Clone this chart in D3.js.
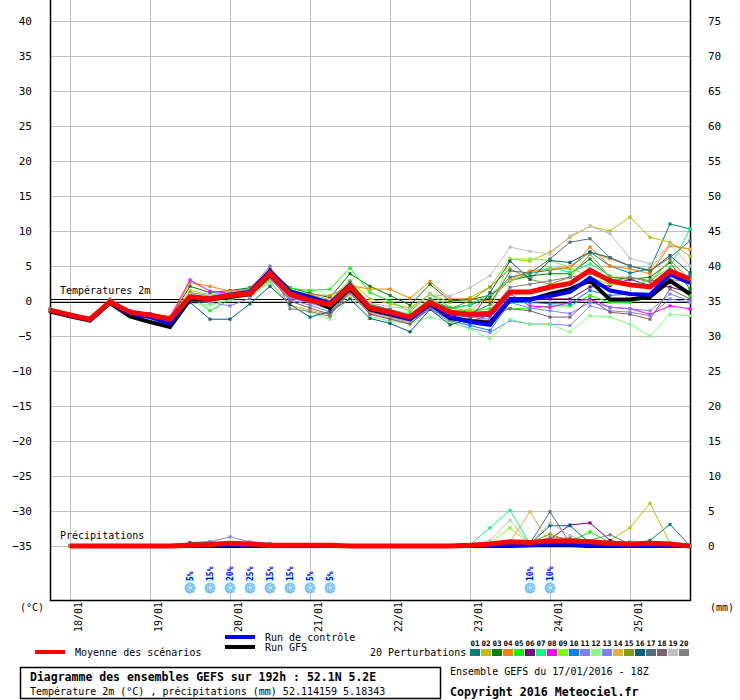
<!DOCTYPE html>
<html>
<head>
<meta charset="utf-8">
<script src="https://cdn.jsdelivr.net/npm/d3@7"></script>
<style>
body{margin:0;background:#fff}
svg{display:block}
text{font-family:"DejaVu Sans Mono",monospace}
</style>
</head>
<body>
<div id="chart"></div>
<script>
// time axis: hours after 17/01 18Z, one point every 6h
const hours = d3.range(0, 193, 6)
const dayHours = [6, 30, 54, 78, 102, 126, 150, 174]
const dayLabels = ['18/01', '19/01', '20/01', '21/01', '22/01', '23/01', '24/01', '25/01']
const tempTicks = [40, 35, 30, 25, 20, 15, 10, 5, 0, -5, -10, -15, -20, -25, -30, -35]
const precipTicks = [75, 70, 65, 60, 55, 50, 45, 40, 35, 30, 25, 20, 15, 10, 5, 0]

const pertNames = ['01','02','03','04','05','06','07','08','09','10','11','12','13','14','15','16','17','18','19','20']
const pertColors = ['#008080','#bfbf00','#008000','#ff8000','#00ff00','#800080','#00ff80','#ff00ff','#80ff00','#0080ff',
    '#8080ff','#80ff80','#8080f8','#e0b040','#80a000','#006080','#507080','#806070','#c0c0c0','#808080']

// 2m temperature (°C)
const meanTemp = [-1.3,-2.0,-2.6,-0.1,-1.6,-2.0,-2.6,0.6,0.3,0.8,1.1,4.0,1.0,0.1,-0.5,2.1,-1.0,-1.6,-2.3,-0.2,-1.6,-1.9,-1.8,1.3,1.3,2.0,2.5,4.4,2.9,2.3,2.0,4.3,3.1]
const ctrlTemp = [-1.4,-2.1,-2.7,-0.2,-1.8,-2.3,-3.2,0.5,0.4,0.9,1.3,4.3,1.4,0.6,-0.3,2.3,-1.0,-1.8,-2.6,-0.4,-2.3,-3.0,-3.4,0.3,0.3,0.7,1.3,3.3,1.5,1.0,0.9,3.8,2.6]
const gfsTemp = [-1.5,-2.2,-2.8,-0.3,-2.2,-3.0,-3.7,0.2,0.2,0.6,1.0,3.8,1.0,0.3,-1.0,1.8,-1.2,-1.9,-2.5,-0.4,-2.4,-2.9,-3.1,0.1,0.2,1.0,1.7,2.9,0.2,0.2,0.6,2.9,1.0]
const pertTemp = [
    [-1.2,-2.0,-2.5,0.0,-1.5,-1.9,-2.5,0.9,0.6,1.0,1.4,4.2,1.5,0.8,-0.2,2.6,-0.6,-1.4,-2.0,0.2,-1.0,-0.6,0.5,3.4,4.0,4.4,4.8,7.0,5.0,4.0,4.6,11.0,10.3],
    [-1.1,-1.9,-2.4,0.1,-1.4,-1.8,-2.2,1.5,0.9,1.3,1.8,3.6,1.6,0.9,0.2,2.9,0.3,-0.4,-1.0,1.0,-0.2,0.5,2.0,6.0,5.7,7.0,9.1,10.7,10.0,12.0,9.1,8.4,6.4],
    [-1.2,-1.9,-2.5,0.0,-1.4,-1.8,-2.4,2.1,1.2,1.5,1.9,4.4,1.9,1.1,0.5,3.9,2.1,0.8,-0.6,2.4,0.0,0.2,0.8,2.9,3.6,3.9,3.9,6.0,3.4,3.1,3.4,5.5,1.7],
    [-1.3,-2.0,-2.6,-0.1,-1.5,-1.9,-2.4,2.6,2.1,1.4,1.6,3.2,1.2,0.9,0.8,2.2,1.7,1.7,0.4,2.8,0.3,0.3,0.0,3.1,4.3,4.6,4.6,7.7,5.0,4.6,3.9,7.9,7.4],
    [-1.4,-2.1,-2.7,-0.2,-1.6,-2.1,-2.6,0.8,-1.4,0.2,1.0,3.0,1.8,1.5,1.7,4.7,1.2,0.0,-1.5,1.0,-0.9,-1.5,-1.1,-1.1,-1.1,-0.7,-0.7,0.8,-0.2,-0.2,0.5,2.7,0.8],
    [-1.3,-2.1,-2.6,-0.1,-1.6,-2.0,-2.7,0.3,0.0,0.6,1.0,3.9,0.6,-0.2,-0.8,1.8,-1.3,-1.9,-2.6,-0.5,-2.0,-2.3,-2.2,0.3,0.1,0.3,0.3,2.0,2.2,3.1,2.2,2.0,1.2],
    [-1.2,-1.9,-2.5,0.0,-1.5,-1.9,-2.5,1.1,0.8,1.2,1.6,3.0,0.8,0.4,-0.3,2.6,-0.7,-1.2,-1.9,0.3,-1.2,-0.5,1.0,2.9,3.9,4.8,4.1,5.3,3.6,2.2,2.9,4.8,10.3],
    [-1.2,-2.0,-2.5,0.0,-1.4,-1.8,-2.3,3.0,1.4,1.1,1.3,3.4,0.3,0.0,-0.6,1.5,-1.6,-2.2,-2.9,-0.8,-2.2,-2.6,-2.8,1.0,-0.7,-0.9,-0.2,0.3,-0.9,-1.1,-1.9,-0.7,-1.1],
    [-1.3,-2.0,-2.6,-0.1,-1.5,-1.9,-2.5,0.7,0.5,1.0,1.5,3.7,1.3,0.6,0.0,2.8,-0.4,-1.3,-2.0,0.4,-1.5,-1.2,-1.6,6.0,6.0,5.8,4.8,3.4,2.4,2.2,2.2,4.3,3.4],
    [-1.4,-2.1,-2.7,-0.2,-1.7,-2.2,-2.8,0.2,0.1,0.5,0.9,3.8,0.8,-0.1,-1.0,1.9,-1.4,-2.2,-3.0,-1.0,-2.8,-3.5,-4.2,-0.2,-0.2,-0.4,-0.4,1.5,0.8,1.0,0.8,3.6,3.6],
    [-1.4,-2.1,-2.7,-0.2,-1.7,-2.1,-2.8,0.0,-0.2,-0.7,0.4,3.4,0.2,-0.6,-1.6,1.3,-1.8,-2.5,-3.2,-1.2,-3.0,-3.9,-4.5,-2.8,-3.3,-3.3,-3.5,-0.7,-1.4,-1.6,-2.1,0.3,-0.2],
    [-1.3,-2.0,-2.6,-0.1,-1.6,-2.0,-2.6,-0.3,-0.6,0.2,0.8,2.6,-0.5,-1.6,-2.6,0.6,-2.2,-2.9,-3.2,-2.3,-3.0,-4.0,-5.4,-2.6,-3.3,-3.4,-4.4,-2.1,-2.3,-3.3,-5.0,-1.9,-2.1],
    [-1.3,-2.0,-2.6,-0.1,-1.6,-2.0,-2.7,0.5,0.3,0.5,0.9,3.5,0.5,-0.3,-1.2,1.6,-1.3,-2.1,-2.8,-0.9,-2.2,-2.3,-2.6,-0.2,-1.0,-1.4,-1.8,-0.2,-0.9,-1.1,-1.4,1.0,0.0],
    [-1.3,-2.0,-2.6,-0.1,-1.6,-2.0,-2.6,0.9,0.0,0.4,0.7,2.9,-0.6,-1.3,-2.0,1.0,-1.8,-2.4,-3.0,-0.6,-2.0,-1.5,1.0,2.8,4.1,4.6,5.0,7.0,6.0,5.0,4.5,8.1,7.4],
    [-1.2,-1.9,-2.5,0.0,-1.5,-1.9,-2.5,1.2,0.7,0.8,1.2,3.5,0.9,0.2,-0.4,2.4,-0.8,-1.6,-2.1,0.0,-1.1,0.0,2.0,4.6,3.1,2.4,3.4,6.7,3.4,3.4,2.7,5.8,3.1],
    [-1.5,-2.2,-2.8,-0.3,-1.8,-2.2,-2.8,-0.2,-2.6,-2.6,-0.4,2.1,-0.5,-2.3,-1.5,0.3,-2.5,-3.2,-4.4,-1.2,-3.4,-2.6,1.2,5.7,3.1,5.8,5.5,7.0,6.2,5.0,4.3,6.5,4.0],
    [-1.3,-2.0,-2.6,-0.1,-1.6,-2.0,-2.6,0.4,0.4,1.0,1.4,4.6,1.2,0.4,-0.3,2.7,-0.5,-1.2,-2.2,0.3,-1.8,-1.8,-0.5,4.3,4.0,6.0,8.4,8.9,6.2,5.0,4.3,6.2,8.6],
    [-1.4,-2.1,-2.7,-0.2,-1.7,-2.1,-2.7,0.0,0.2,0.4,0.8,3.3,0.0,-1.0,-1.9,1.2,-1.9,-2.6,-3.3,-1.0,-2.7,-2.9,-2.0,-1.1,-1.4,-2.3,-2.3,0.3,-1.6,-1.9,-2.6,1.7,0.3],
    [-1.2,-1.9,-2.5,0.0,-1.5,-1.9,-2.4,1.0,0.8,1.2,1.7,3.9,1.4,0.7,0.2,2.4,-0.3,-0.8,-1.2,0.9,0.7,1.9,3.6,7.7,7.1,6.7,9.3,10.7,9.6,6.1,5.3,8.1,5.0],
    [-1.2,-1.9,-2.5,0.3,-1.4,-1.8,-2.4,0.6,0.5,1.1,1.7,5.0,-1.1,-1.5,-2.2,1.9,-1.0,-1.6,-2.0,0.1,-1.6,-1.9,-1.5,1.95,2.4,2.9,3.4,3.9,2.7,3.4,2.9,3.1,2.7]
]

// 6h precipitation (mm), first value ends at 18/01 00Z
const meanPrecip = [0,0,0,0,0,0,0.1,0.2,0.4,0.3,0.1,0.1,0.1,0.1,0,0,0,0,0,0,0.1,0.3,0.6,0.5,0.7,0.7,0.6,0.4,0.3,0.4,0.3,0]
const ctrlPrecip = [0,0,0,0,0,0,0.1,0.1,0.2,0.1,0,0,0,0,0,0,0,0,0,0,0,0,0.1,0.1,0.2,0.2,0.1,0.1,0,0,0,0]
const gfsPrecip = [0,0,0,0,0,0,0,0,0,0,0,0,0,0,0,0,0,0,0,0,0,0,0,0.1,0.1,0.1,0,0,0,0,0,0]
const pertPrecip = [
    [0,0,0,0,0,0,0.2,0.3,0.2,0.1,0,0,0,0,0,0,0,0,0,0,0,0.3,0.3,0.2,0.5,0.3,0.2,0.1,0.1,0.8,3.1,0],
    [0,0,0,0,0,0,0.1,0.2,0.3,0.1,0,0,0,0,0,0,0,0,0,0,0,0.1,0.3,0.4,0.5,0.6,0.5,0.8,2.6,6.1,0.4,0],
    [0,0,0,0,0,0,0.5,0.6,0.3,0.2,0,0,0,0,0,0,0,0,0,0,0,0.2,0.5,0.3,0.6,0.5,0.4,0.2,0.1,0.2,0.1,0],
    [0,0,0,0,0,0,0.1,0.1,0.3,0.2,0,0,0,0,0,0,0,0,0,0,0,0,0.2,0.3,0.5,0.3,0.4,0.2,0.1,0.1,0.2,0],
    [0,0,0,0,0,0,0.2,0.3,0.3,0.2,0,0,0,0,0,0,0,0,0,0,0,0.1,0.3,0.2,0.4,0.6,2.0,0.5,0.1,0.2,0.1,0],
    [0,0,0,0,0,0,0.1,0.2,0.2,0.1,0,0,0,0,0,0,0,0,0,0,0,0,0.2,0.3,1.0,3.0,3.3,0.8,0.2,0.1,0.1,0],
    [0,0,0,0,0,0,0.2,0.3,0.2,0.1,0,0,0,0,0,0,0,0,0,0,0.2,2.6,5.1,0.3,0.5,0.4,0.3,0.4,0.6,0.2,0.1,0],
    [0,0,0,0,0,0,0.4,0.2,0.2,0.1,0,0,0,0,0,0,0,0,0,0,0,0.1,0.2,0.3,0.3,0.3,0.2,0.1,0.1,0.1,0.1,0],
    [0,0,0,0,0,0,0.1,0.2,0.3,0.2,0.1,0,0,0,0,0,0,0,0,0,0,0.4,2.6,0.3,0.3,0.5,0.4,0.3,0.1,0.1,0.1,0],
    [0,0,0,0,0,0,0.1,0.1,0.2,0.1,0,0,0,0,0,0,0,0,0,0,0,0.1,0.2,0.2,0.4,0.3,0.2,0.1,0.1,0.1,0,0],
    [0,0,0,0,0,0,0.2,0.6,1.3,0.6,0.4,0.1,0,0,0,0,0,0,0,0,0,0.1,0.2,0.3,0.5,0.4,0.3,0.2,0.1,0.1,0.1,0],
    [0,0,0,0,0,0,0.1,0.2,0.2,0.1,0,0,0,0,0,0,0,0,0,0,0,0.1,0.2,0.2,0.3,0.2,0.2,0.1,0.1,0.1,0,0],
    [0,0,0,0,0,0,0.1,0.2,0.3,0.2,0.1,0,0,0,0,0,0,0,0,0,0,0.1,0.3,0.4,0.4,0.3,0.2,0.1,0.1,0.1,0.1,0],
    [0,0,0,0,0,0,0.1,0.2,0.2,0.1,0,0,0,0,0,0,0,0,0,0,0,0.2,0.6,4.9,0.3,0.4,0.3,0.2,0.1,0.1,0.1,0],
    [0,0,0,0,0,0,0.2,0.2,0.3,0.1,0,0,0,0,0,0,0,0,0,0,0,0.1,0.3,0.5,1.7,0.7,0.4,0.2,0.1,0.1,0.1,0],
    [0,0,0,0,0,0,0.1,0.1,0.2,0.1,0,0,0,0,0,0,0,0,0,0,0,0.1,0.2,0.3,2.9,2.9,0.4,0.2,0.1,0.1,0.1,0],
    [0,0,0,0,0,0,0.1,0.2,0.2,0.1,0,0,0,0,0,0,0,0,0,0,0,0.1,0.3,0.4,4.9,0.4,0.3,0.2,0.1,0.1,0.1,0],
    [0,0,0,0,0,0,0.1,0.1,0.2,0.1,0,0,0,0,0,0,0,0,0,0,0,0.1,0.2,0.3,0.3,0.3,0.2,0.1,0.1,0.1,0,0],
    [0,0,0,0,0,0,0.1,0.2,0.2,0.1,0,0,0,0,0,0,0,0,0,0,0,0.8,3.7,0.3,3.3,1.5,0.4,0.2,0.1,0.1,0.1,0],
    [0,0,0,0,0,0,0.1,0.2,0.2,0.1,0,0,0,0,0,0,0,0,0,0,0,0.1,0.3,0.5,1.2,1.1,0.8,1.6,0.3,0.2,0.1,0]
]

// snow probability
const snowHours = [42, 48, 54, 60, 66, 72, 78, 84, 144, 150]
const snowPct = [5, 15, 20, 25, 15, 15, 5, 5, 10, 10]

const svg = d3.select('#chart').append('svg')
    .attr('width', 740)
    .attr('height', 700)

const x = d3.scaleLinear().domain([0, 192]).range([50, 690])
const y = d3.scaleLinear().domain([-35, 40]).range([546, 21])
const yp = d3.scaleLinear().domain([0, 75]).range([546, 21])
const precipHours = hours.slice(1)

// grid
svg.append('g').selectAll('line')
    .data(tempTicks)
    .join('line')
    .attr('x1', 50).attr('x2', 690)
    .attr('y1', d => y(d) + 0.5).attr('y2', d => y(d) + 0.5)
    .attr('stroke', '#c0c0c0')
svg.append('g').selectAll('line')
    .data(dayHours)
    .join('line')
    .attr('x1', d => x(d) + 0.5).attr('x2', d => x(d) + 0.5)
    .attr('y1', 0).attr('y2', 600)
    .attr('stroke', '#c0c0c0')

// 0°C double line
;[-1.5, 1.5].forEach(o => {
    svg.append('line')
        .attr('x1', 50).attr('x2', 690)
        .attr('y1', y(0) + o).attr('y2', y(0) + o)
        .attr('stroke', '#000')
})

// axes
const leftAxis = svg.append('g')
    .attr('transform', 'translate(50,0)')
    .call(d3.axisLeft(y).tickValues(tempTicks).tickSize(0).tickPadding(18))
const rightAxis = svg.append('g')
    .attr('transform', 'translate(690,0)')
    .call(d3.axisRight(yp).tickValues(precipTicks).tickSize(0).tickPadding(18))
;[leftAxis, rightAxis].forEach(a => {
    a.select('.domain').remove()
    a.selectAll('text')
        .attr('font-family', '"Liberation Sans", Arial, sans-serif')
        .attr('font-size', 11)
        .attr('fill', '#000')
})
svg.append('path')
    .attr('d', 'M50.5,0V600.5H690.5V0')
    .attr('fill', 'none')
    .attr('stroke', '#000')
    .attr('stroke-width', 1.5)

// day labels
svg.append('g').selectAll('text')
    .data(dayHours)
    .join('text')
    .attr('transform', d => `translate(${x(d) + 12},602) rotate(-90)`)
    .attr('text-anchor', 'end')
    .attr('font-size', 10)
    .text((d, i) => dayLabels[i])
svg.append('text').attr('x', 20).attr('y', 611).attr('font-size', 10).text('(°C)')
svg.append('text').attr('x', 710).attr('y', 611).attr('font-size', 10).text('(mm)')

svg.append('text').attr('x', 60).attr('y', 294).attr('font-size', 10).text('Températures 2m')
svg.append('text').attr('x', 60).attr('y', 539).attr('font-size', 10).text('Précipitations')

const tLine = d3.line()
    .x((d, i) => x(hours[i]))
    .y(d => y(d))
const pLine = d3.line()
    .x((d, i) => x(precipHours[i]))
    .y(d => yp(d))

// perturbations
const drawPert = (series, line, hrs, scale) => {
    series.forEach((s, k) => {
        svg.append('path')
            .datum(s)
            .attr('d', line)
            .attr('fill', 'none')
            .attr('stroke', pertColors[k])
            .attr('stroke-width', 1)
        svg.append('g').selectAll('rect')
            .data(s)
            .join('rect')
            .attr('x', (d, i) => x(hrs[i]) - 1.5)
            .attr('y', d => scale(d) - 1.5)
            .attr('width', 3).attr('height', 3)
            .attr('fill', pertColors[k])
    })
}
drawPert(pertTemp, tLine, hours, y)
drawPert(pertPrecip, pLine, precipHours, yp)

// main runs
const mains = [
    {t: gfsTemp, p: gfsPrecip, color: '#000', w: 4},
    {t: ctrlTemp, p: ctrlPrecip, color: '#0000ff', w: 4},
    {t: meanTemp, p: meanPrecip, color: '#ff0000', w: 5}
]
mains.forEach(m => {
    svg.append('path').datum(m.t).attr('d', tLine)
        .attr('fill', 'none').attr('stroke', m.color).attr('stroke-width', m.w)
    svg.append('path').datum(m.p).attr('d', pLine)
        .attr('fill', 'none').attr('stroke', m.color).attr('stroke-width', m.w)
})

// snow icons
const snow = svg.append('g').selectAll('g')
    .data(snowHours)
    .join('g')
    .attr('transform', d => `translate(${x(d)},0)`)
snow.append('rect')
    .attr('x', -5).attr('y', 575).attr('width', 10).attr('height', 7)
    .attr('fill', '#ccffff')
snow.append('text')
    .attr('transform', 'translate(2.5,581) rotate(-90)')
    .attr('text-anchor', 'start')
    .attr('font-family', '"DejaVu Sans", sans-serif')
    .attr('font-size', 8)
    .attr('font-weight', 'bold')
    .attr('fill', '#0000ff')
    .text((d, i) => snowPct[i] + '%')
snow.append('circle')
    .attr('cx', 0).attr('cy', 588).attr('r', 5.5)
    .attr('fill', '#7cc4ee')
;[0, 60, 120].forEach(a => {
    snow.append('line')
        .attr('x1', 0).attr('y1', -4).attr('x2', 0).attr('y2', 4)
        .attr('transform', `translate(0,588) rotate(${a})`)
        .attr('stroke', '#eaf6ff')
        .attr('stroke-width', 1)
        .attr('stroke-dasharray', '1,1')
})

// legend
svg.append('rect').attr('x', 35).attr('y', 650).attr('width', 30).attr('height', 4).attr('fill', '#ff0000')
svg.append('text').attr('x', 75).attr('y', 656).attr('font-size', 10).text('Moyenne des scénarios')
svg.append('rect').attr('x', 225).attr('y', 635).attr('width', 30).attr('height', 4).attr('fill', '#0000ff')
svg.append('text').attr('x', 265).attr('y', 641).attr('font-size', 10).text('Run de contrôle')
svg.append('rect').attr('x', 225).attr('y', 645).attr('width', 30).attr('height', 4).attr('fill', '#000')
svg.append('text').attr('x', 265).attr('y', 651).attr('font-size', 10).text('Run GFS')
svg.append('text').attr('x', 370).attr('y', 656).attr('font-size', 10).text('20 Perturbations')
const cells = svg.append('g').selectAll('g')
    .data(pertNames)
    .join('g')
    .attr('transform', (d, i) => `translate(${470 + 11 * i},0)`)
cells.append('rect')
    .attr('y', 649).attr('width', 10).attr('height', 7)
    .attr('fill', (d, i) => pertColors[i])
cells.append('text')
    .attr('x', 5).attr('y', 646)
    .attr('text-anchor', 'middle')
    .attr('font-size', 7.5)
    .attr('font-weight', 'bold')
    .text(d => d)

// info box
svg.append('rect')
    .attr('x', 20.5).attr('y', 667.5).attr('width', 420).attr('height', 31)
    .attr('fill', 'none').attr('stroke', '#000').attr('stroke-width', 1.5)
svg.append('text').attr('x', 30).attr('y', 681).attr('font-size', 11.5).attr('font-weight', 'bold')
    .text('Diagramme des ensembles GEFS sur 192h : 52.1N 5.2E')
svg.append('text').attr('x', 30).attr('y', 695).attr('font-size', 10)
    .text('Température 2m (°C) , précipitations (mm) 52.114159 5.18343')
svg.append('text').attr('x', 450).attr('y', 675).attr('font-size', 10)
    .text('Ensemble GEFS du 17/01/2016 - 18Z')
svg.append('text').attr('x', 450).attr('y', 696).attr('font-size', 11.6).attr('font-weight', 'bold')
    .text('Copyright 2016 Meteociel.fr')
</script>
</body>
</html>
